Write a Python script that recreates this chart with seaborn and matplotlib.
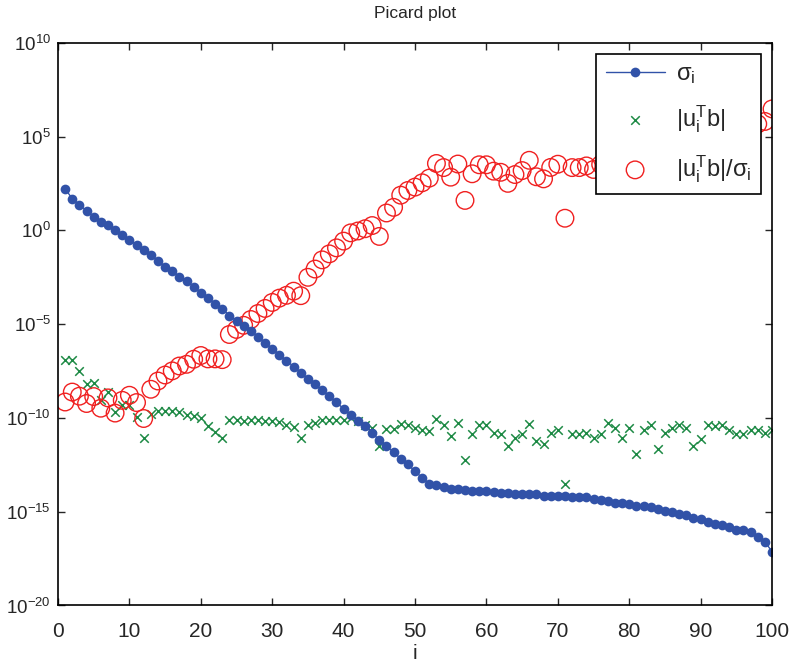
import numpy as np
import pandas as pd
import matplotlib
matplotlib.use("Agg")
import matplotlib.pyplot as plt
import seaborn as sns

# values, stored as log10 of the plotted quantity
sigma_log10 = [
    2.22, 1.69, 1.37, 1.05, 0.73, 0.46, 0.30, 0.04, -0.23, -0.50,
    -0.76, -1.03, -1.30, -1.61, -1.93, -2.15, -2.47, -2.68, -3.00, -3.32,
    -3.59, -3.91, -4.17, -4.54, -4.81, -5.08, -5.34, -5.66, -5.98, -6.30,
    -6.62, -6.94, -7.26, -7.58, -7.90, -8.20, -8.52, -8.84, -9.16, -9.52,
    -9.86, -10.14, -10.44, -10.79, -11.19, -11.51, -11.81, -12.18, -12.48, -12.84,
    -13.19, -13.50, -13.60, -13.70, -13.78, -13.80, -13.85, -13.87, -13.90, -13.90,
    -13.95, -13.98, -14.02, -14.04, -14.04, -14.05, -14.08, -14.15, -14.15, -14.15,
    -14.15, -14.23, -14.23, -14.23, -14.31, -14.40, -14.44, -14.51, -14.51, -14.61,
    -14.68, -14.68, -14.77, -14.86, -14.95, -15.04, -15.13, -15.20, -15.31, -15.41,
    -15.56, -15.66, -15.73, -15.82, -15.98, -15.98, -16.09, -16.33, -16.60, -17.13,
]

utb_log10 = [
    -6.93, -6.93, -7.47, -8.18, -8.13, -9.02, -8.63, -9.70, -9.29, -9.29,
    -9.94, -11.06, -9.77, -9.64, -9.64, -9.64, -9.70, -9.82, -9.87, -9.99,
    -10.44, -10.76, -11.06, -10.09, -10.09, -10.14, -10.09, -10.09, -10.14, -10.14,
    -10.23, -10.40, -10.50, -11.06, -10.40, -10.26, -10.09, -10.09, -10.09, -10.09,
    -9.99, -10.17, -10.35, -10.53, -11.51, -10.58, -10.58, -10.30, -10.35, -10.53,
    -10.65, -10.71, -10.03, -10.35, -10.94, -10.26, -12.25, -10.85, -10.40, -10.40,
    -10.79, -10.88, -11.51, -11.06, -10.85, -10.31, -11.22, -11.40, -10.79, -10.62,
    -13.50, -10.88, -10.88, -10.79, -11.06, -10.88, -10.26, -10.53, -11.06, -10.53,
    -11.91, -10.62, -10.35, -11.65, -10.79, -10.53, -10.35, -10.53, -11.51, -11.11,
    -10.35, -10.44, -10.35, -10.65, -10.88, -10.83, -10.65, -10.65, -10.79, -10.65,
]

ratio_log10 = [
    -9.15, -8.62, -8.84, -9.23, -8.86, -9.48, -8.93, -9.74, -9.06, -8.79,
    -9.18, -10.03, -8.47, -8.03, -7.71, -7.49, -7.23, -7.14, -6.87, -6.67,
    -6.85, -6.85, -6.89, -5.55, -5.28, -5.06, -4.75, -4.43, -4.16, -3.84,
    -3.61, -3.46, -3.24, -3.48, -2.50, -2.06, -1.57, -1.25, -0.93, -0.57,
    -0.13, -0.03, 0.09, 0.26, -0.32, 0.93, 1.23, 1.88, 2.13, 2.31,
    2.54, 2.79, 3.57, 3.35, 2.84, 3.54, 1.60, 3.02, 3.50, 3.50,
    3.16, 3.10, 2.51, 2.98, 3.19, 3.74, 2.86, 2.75, 3.36, 3.53,
    0.65, 3.35, 3.35, 3.44, 3.25, 3.52, 4.18, 3.98, 3.45, 4.08,
    2.77, 4.06, 4.42, 3.21, 4.16, 4.51, 4.78, 4.67, 3.80, 4.30,
    5.21, 5.22, 5.38, 5.17, 5.10, 5.15, 5.44, 5.68, 5.81, 6.48,
]

x_ticks = [0, 10, 20, 30, 40, 50, 60, 70, 80, 90, 100]
y_ticks = [1e-20, 1e-15, 1e-10, 1e-5, 1e0, 1e5, 1e10]

df = pd.DataFrame({
    "i": np.arange(1, len(sigma_log10) + 1),
    "sigma": 10.0 ** np.array(sigma_log10),
    "utb": 10.0 ** np.array(utb_log10),
    "ratio": 10.0 ** np.array(ratio_log10),
})

sns.set_style("ticks")
plt.rcParams["font.family"] = ["Liberation Sans", "DejaVu Sans"]
plt.rcParams["mathtext.fontset"] = "custom"
plt.rcParams["mathtext.rm"] = "Liberation Sans"
plt.rcParams["mathtext.it"] = "Liberation Sans"
plt.rcParams["mathtext.default"] = "regular"

blue = "#3152a8"
green = "#1e8a45"
red = "#f02020"

fig = plt.figure(figsize=(7.89, 6.65), dpi=100)
ax = fig.add_axes([0.0735, 0.0895, 0.905, 0.846])

sns.lineplot(data=df, x="i", y="sigma", ax=ax, color=blue, lw=1.0,
             marker="o", markersize=7, markeredgewidth=0, label=r"$\sigma_i$")
sns.scatterplot(data=df, x="i", y="utb", ax=ax, color=green, marker="x",
                s=38, linewidth=1.1, label=r"$|u_i^T b|$")
sns.scatterplot(data=df, x="i", y="ratio", ax=ax, facecolor="none",
                edgecolor=red, marker="o", s=160, linewidth=1.0,
                label=r"$|u_i^T b|/\sigma_i$")

ax.set_yscale("log")
ax.set_xlim(0, 100)
ax.set_ylim(1e-20, 1e10)
ax.set_xticks(x_ticks)
ax.set_yticks(y_ticks)
ax.minorticks_off()
ax.tick_params(direction="in", top=True, right=True, length=5, width=1)
ax.tick_params(axis="x", labelsize=15, pad=12)
ax.tick_params(axis="y", labelsize=13.5, pad=5)
for sp in ax.spines.values():
    sp.set_linewidth(1.2)
    sp.set_color("black")

ax.set_xlabel("i", fontsize=15)
ax.xaxis.set_label_coords(0.5, -0.068)
ax.set_ylabel("")
ax.set_title("Picard plot", fontsize=12.5, pad=18)

leg = ax.legend(loc="upper right", fontsize=17, frameon=True, fancybox=False,
                framealpha=1, edgecolor="black", handlelength=2.5,
                handletextpad=0.5, labelspacing=0.75, borderpad=0.4,
                borderaxespad=0.45)
leg.get_frame().set_linewidth(1.2)

fig.savefig("out.png", dpi=100)
